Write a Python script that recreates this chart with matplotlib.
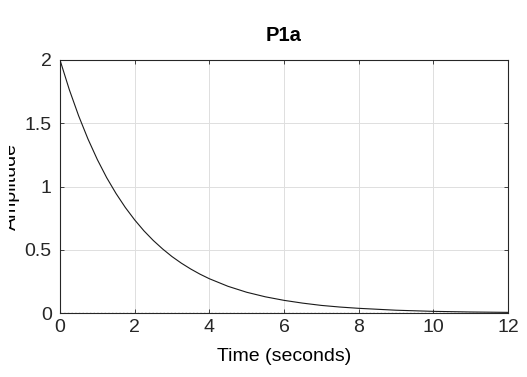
import matplotlib
matplotlib.use("Agg")
import matplotlib.pyplot as plt
from matplotlib.patches import Rectangle

# Impulse response values
time_s = [0, 0.25, 0.5, 0.75, 1.0, 1.25, 1.5, 1.75, 2.0, 2.25, 2.5, 2.75,
          3.0, 3.25, 3.5, 3.75, 4.0, 4.5, 5.0, 5.5, 6.0, 6.5, 7.0, 7.5,
          8.0, 9.0, 10.0, 11.0, 12.0]
amplitude = [2.0, 1.765, 1.558, 1.375, 1.213, 1.07, 0.945, 0.834, 0.736,
             0.649, 0.573, 0.506, 0.446, 0.394, 0.348, 0.307, 0.271, 0.211,
             0.164, 0.128, 0.100, 0.078, 0.060, 0.047, 0.037, 0.022, 0.013,
             0.008, 0.005]

x_ticks = [0, 2, 4, 6, 8, 10, 12]
y_ticks = [0, 0.5, 1, 1.5, 2]

plt.rcParams['font.family'] = ['Liberation Sans', 'DejaVu Sans']

fig = plt.figure(figsize=(5.27, 3.77), dpi=100, facecolor="white")
ax = fig.add_axes([60 / 527, 1 - 313 / 377, 448 / 527, 253 / 377])

ax.plot(time_s, amplitude, color="#1a1a1a", lw=0.8, zorder=3)
ax.axhline(0, color="#8c8c8c", ls=":", lw=1.0, zorder=2)

ax.set_xlim(0, 12)
ax.set_ylim(0, 2)
ax.set_xticks(x_ticks)
ax.set_xticklabels([str(v) for v in x_ticks])
ax.set_yticks(y_ticks)
ax.set_yticklabels(["0", "0.5", "1", "1.5", "2"])

ax.grid(True, color="#dedede", lw=0.7)
ax.set_axisbelow(True)
ax.tick_params(direction="in", length=3, width=0.6, colors="#262626",
               labelsize=14, top=True, right=True, pad=4)
ax.tick_params(axis="y", pad=6)
for spine in ax.spines.values():
    spine.set_edgecolor("#262626")
    spine.set_linewidth(0.8)

ax.set_title("P1a", fontsize=14.5, fontweight="bold", pad=14)
ax.set_xlabel("Time (seconds)", fontsize=14, labelpad=9)
ax.set_ylabel("Amplitude", fontsize=14)
ax.yaxis.set_label_coords(-0.089, 0.5)

# the label is cut off at the left edge in the original
fig.patches.append(Rectangle((0, 0), 9 / 527, 1, transform=fig.transFigure,
                             facecolor="white", edgecolor="none", zorder=10))

plt.savefig("out.png", dpi=100, facecolor=fig.get_facecolor())
